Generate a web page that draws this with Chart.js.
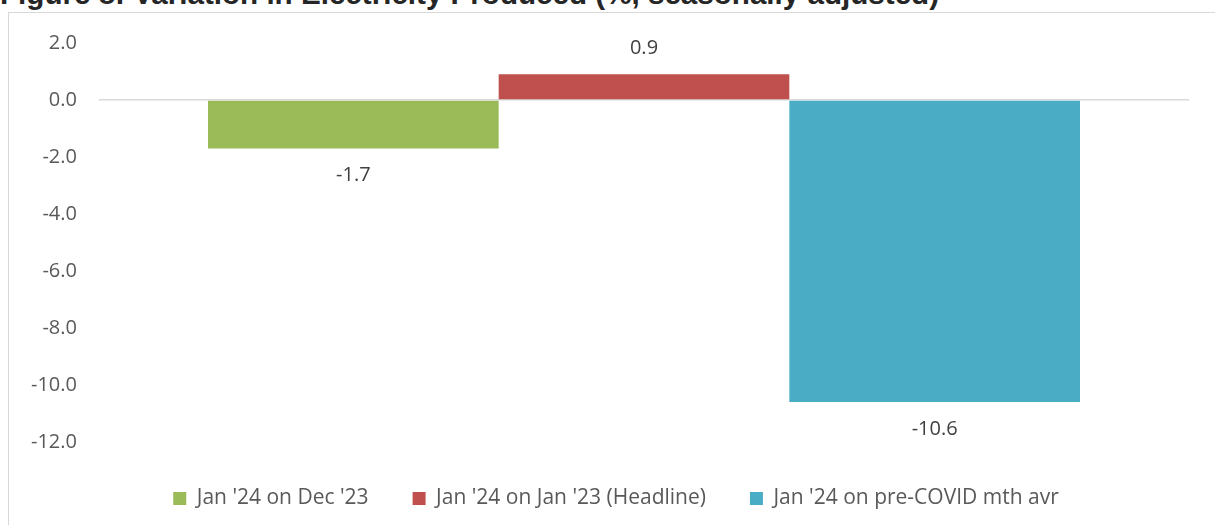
<!DOCTYPE html>
<html>
<head>
<meta charset="utf-8">
<script src="https://cdn.jsdelivr.net/npm/chart.js@4"></script>
<style>
  html, body { margin: 0; padding: 0; background: #fff; width: 1215px; height: 525px; overflow: hidden; }
  #title {
    position: absolute; left: 0px; top: -21px; white-space: nowrap;
    font: bold 29.6px "Liberation Sans", Arial, sans-serif; color: #262626; line-height: 30px;
  }
  #box {
    position: absolute; left: 8px; top: 12px; width: 1220px; height: 530px;
    border: 1px solid #d9d9d9; box-sizing: border-box; overflow: hidden;
  }
  #wrap { position: absolute; left: 0; top: -4px; width: 1206px; height: 508px; }
</style>
</head>
<body>
<div id="title">Figure 8: Variation in Electricity Produced (%, seasonally adjusted)</div>
<div id="box"><div id="wrap"><canvas id="chart"></canvas></div></div>
<script>
// series names and values (%)
const seriesNames = ["Jan '24 on Dec '23", "Jan '24 on Jan '23 (Headline)", "Jan '24 on pre-COVID mth avr"]
const seriesValues = [-1.7, 0.9, -10.6]
const seriesColors = ['#9BBB59', '#C0504D', '#4BACC6']
const categories = ['']

const yMin = -12
const yMax = 2
const yStep = 2

// draws the value above / below each bar
const valueLabels = {
  id: 'valueLabels',
  afterDatasetsDraw(chart) {
    const ctx = chart.ctx
    ctx.save()
    ctx.font = '20px "Open Sans", sans-serif'
    ctx.fillStyle = '#404040'
    ctx.textAlign = 'center'
    ctx.textBaseline = 'middle'
    chart.data.datasets.forEach((ds, i) => {
      const meta = chart.getDatasetMeta(i)
      meta.data.forEach((bar, j) => {
        const v = ds.data[j]
        const y = v >= 0 ? bar.y - 26 : bar.y + 27
        ctx.fillText(v.toFixed(1), bar.x, y)
      })
    })
    ctx.restore()
  }
}

// excel puts the legend a bit right of the canvas centre
const legendShift = {
  id: 'legendShift',
  afterLayout(chart) {
    const lg = chart.legend
    lg.left += 17
    lg.right += 17
    lg.top += 2
    lg.bottom += 2
  }
}

new Chart(document.getElementById('chart'), {
  type: 'bar',
  data: {
    labels: categories,
    datasets: seriesNames.map((name, i) => ({
      label: name,
      data: [seriesValues[i]],
      backgroundColor: seriesColors[i],
      barPercentage: 1,
      categoryPercentage: 0.8
    }))
  },
  options: {
    responsive: true,
    maintainAspectRatio: false,
    animation: false,
    layout: { padding: { left: 0, right: 26, top: 18, bottom: 0 } },
    scales: {
      x: { display: false },
      y: {
        min: yMin,
        max: yMax,
        border: { display: false },
        grid: {
          drawTicks: false,
          lineWidth: 1.5,
          color: c => c.tick && c.tick.value === 0 ? '#d9d9d9' : 'rgba(0,0,0,0)'
        },
        ticks: {
          stepSize: yStep,
          padding: 22,
          color: '#595959',
          font: { family: '"Open Sans", sans-serif', size: 20 },
          callback: v => v.toFixed(1)
        }
      }
    },
    plugins: {
      legend: {
        position: 'bottom',
        labels: {
          boxWidth: 13,
          boxHeight: 13,
          padding: 44,
          color: '#595959',
          font: { family: '"Open Sans", sans-serif', size: 21 }
        }
      },
      tooltip: { enabled: false }
    }
  },
  plugins: [valueLabels, legendShift]
})
</script>
</body>
</html>
